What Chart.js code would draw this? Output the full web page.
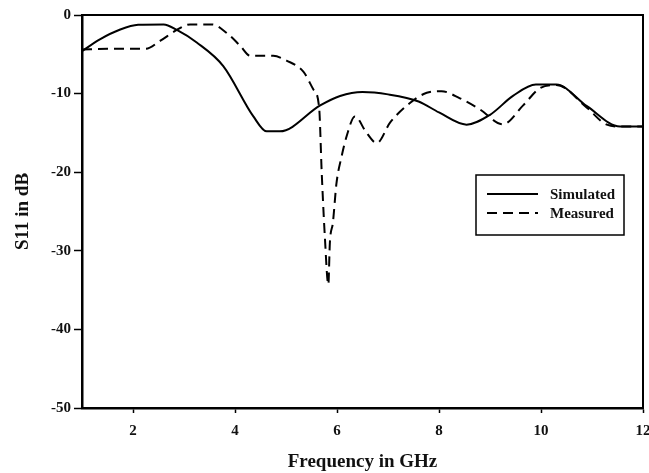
<!DOCTYPE html>
<html>
<head>
<meta charset="utf-8">
<script src="https://cdn.jsdelivr.net/npm/chart.js@4/dist/chart.umd.min.js"></script>
<style>
  body { margin: 0; background: #fff; }
  canvas { display: block; }
</style>
</head>
<body>
<canvas id="s11Chart" width="649" height="473"></canvas>
<script>
// S11 vs frequency, simulated and measured
const simFreq = [1.0, 1.35, 1.75, 2.1, 2.6, 2.86, 3.25, 3.77, 4.36, 4.62, 4.88, 5.67, 6.06, 6.5, 7.0, 7.6, 8.0, 8.54, 9.0, 9.45, 9.9, 10.3, 10.9, 11.55, 12.0];
const simS11 = [-4.6, -3.1, -1.85, -1.25, -1.2, -1.9, -3.5, -6.5, -12.9, -14.8, -14.8, -11.5, -10.3, -9.8, -10.1, -11.0, -12.4, -13.95, -12.7, -10.3, -8.85, -8.85, -11.6, -14.2, -14.2];

const measFreq = [1.0, 1.5, 2.25, 2.53, 2.86, 3.12, 3.55, 3.84, 4.1, 4.3, 4.75, 5.01, 5.34, 5.54, 5.65, 5.7, 5.76, 5.83, 5.86, 5.92, 5.99, 6.09, 6.19, 6.35, 6.58, 6.78, 7.04, 7.43, 7.76, 8.05, 8.41, 8.8, 9.25, 9.65, 9.98, 10.3, 10.9, 11.29, 11.6, 12.0];
const measS11 = [-4.4, -4.3, -4.3, -3.3, -1.9, -1.2, -1.2, -2.3, -3.9, -5.2, -5.2, -5.8, -7.2, -9.5, -11.8, -20, -28, -34.3, -29, -26.4, -21.4, -18, -15.4, -12.9, -15.0, -16.3, -13.7, -11.2, -9.9, -9.7, -10.6, -12.0, -13.9, -11.5, -9.3, -8.9, -11.8, -13.95, -14.2, -14.2];

const xTicks = [2, 4, 6, 8, 10, 12];
const yTicks = [0, -10, -20, -30, -40, -50];

const serif = "'Liberation Serif', 'Times New Roman', serif";
const toPoints = (xs, ys) => xs.map((x, i) => ({ x: x, y: ys[i] }));

// box round the plot area, plus the legend inside it
const frame = {
  id: "frame",
  afterDraw(chart) {
    const { ctx, chartArea: a } = chart;
    ctx.save();
    ctx.strokeStyle = "#000";
    ctx.lineWidth = 2;
    ctx.strokeRect(a.left, a.top, a.right - a.left, a.bottom - a.top);

    const bx = a.right - 167, by = a.top + 160, bw = 148, bh = 60;
    ctx.lineWidth = 1.5;
    ctx.strokeRect(bx, by, bw, bh);
    ctx.font = "bold 15px " + serif;
    ctx.fillStyle = "#111";
    ctx.textBaseline = "middle";
    chart.data.datasets.forEach((ds, i) => {
      const y = by + 19 + i * 19;
      ctx.setLineDash(ds.borderDash || []);
      ctx.lineWidth = 2;
      ctx.beginPath();
      ctx.moveTo(bx + 11, y);
      ctx.lineTo(bx + 62, y);
      ctx.stroke();
      ctx.setLineDash([]);
      ctx.fillText(ds.label, bx + 74, y + 1);
    });
    ctx.restore();
  }
};

new Chart(document.getElementById("s11Chart"), {
  type: "line",
  data: {
    datasets: [
      {
        label: "Simulated",
        data: toPoints(simFreq, simS11),
        borderColor: "#000",
        borderWidth: 2,
        cubicInterpolationMode: "monotone",
      },
      {
        label: "Measured",
        data: toPoints(measFreq, measS11),
        borderColor: "#000",
        borderWidth: 2,
        borderDash: [10, 6],
        cubicInterpolationMode: "monotone",
      },
    ],
  },
  options: {
    responsive: false,
    animation: false,
    layout: { padding: { top: 15, right: 6, bottom: 0, left: 0 } },
    elements: { point: { radius: 0 } },
    plugins: { legend: { display: false }, tooltip: { enabled: false } },
    scales: {
      x: {
        type: "linear",
        min: 1,
        max: 12,
        afterBuildTicks: (s) => { s.ticks = xTicks.map((v) => ({ value: v })); },
        afterFit: (s) => { s.height = 65; s.paddingRight = 0; },
        border: { color: "#000", width: 2.5 },
        grid: { drawOnChartArea: false, tickLength: 5, tickColor: "#000", tickWidth: 1.5 },
        ticks: { color: "#111", padding: 9, maxRotation: 0, font: { family: serif, size: 15, weight: "bold" } },
        title: {
          display: true,
          text: "Frequency in GHz",
          color: "#111",
          padding: { top: 0, bottom: 0 },
          font: { family: serif, size: 19, weight: "bold" },
        },
      },
      y: {
        min: -50,
        max: 0,
        afterBuildTicks: (s) => { s.ticks = yTicks.map((v) => ({ value: v })); },
        afterFit: (s) => { s.width = 82; },
        border: { color: "#000", width: 2.5 },
        grid: { drawOnChartArea: false, tickLength: 8, tickColor: "#000", tickWidth: 1.5 },
        ticks: { color: "#111", padding: 3, font: { family: serif, size: 15, weight: "bold" } },
        title: {
          display: true,
          text: "S11 in dB",
          color: "#111",
          padding: { top: 12, bottom: 0 },
          font: { family: serif, size: 19, weight: "bold" },
        },
      },
    },
  },
  plugins: [frame],
});
</script>
</body>
</html>
